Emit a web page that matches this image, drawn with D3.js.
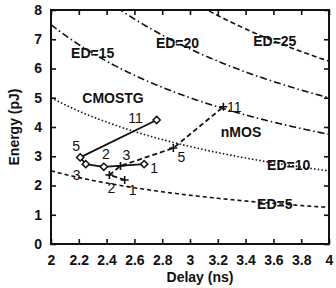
<!DOCTYPE html>
<meta charset="utf-8">
<style>
body { margin: 0; background: #fff; }
svg { font-family: "Liberation Sans", Arial, sans-serif; }
.tick-label { font-size: 14px; font-weight: bold; fill: #111; }
.axis-title { font-size: 14px; font-weight: bold; fill: #111; }
.curve { fill: none; stroke: #111; stroke-width: 1.6px; }
.curve-label { font-size: 14px; font-weight: bold; fill: #111; }
.series-line { fill: none; stroke: #111; stroke-width: 1.8px; }
.pt-label { font-size: 14px; fill: #111; }
</style>
<svg width="336" height="288"></svg>
<script src="https://cdn.jsdelivr.net/npm/d3@7"></script>
<script>

// iso energy-delay curves (E * D = ED)
var edValues = [5, 10, 15, 20, 25];
var edLabelDelay = [3.61, 3.71, 2.30, 2.91, 3.61];

// CMOSTG series (solid, diamonds)
var cmosLabels = ["1", "2", "3", "5", "11"];
var cmosDelay = [2.67, 2.38, 2.25, 2.21, 2.76];
var cmosEnergy = [2.73, 2.64, 2.73, 2.96, 4.24];

// nMOS series (dashed, plus marks)
var nmosLabels = ["1", "2", "3", "5", "11"];
var nmosDelay = [2.53, 2.42, 2.50, 2.88, 3.24];
var nmosEnergy = [2.19, 2.36, 2.67, 3.28, 4.69];

var xTicks = [2, 2.2, 2.4, 2.6, 2.8, 3, 3.2, 3.4, 3.6, 3.8, 4];
var yTicks = [0, 1, 2, 3, 4, 5, 6, 7, 8];

// layout-only bits
var edDash = ["4,3", "1.5,2.2", "7,3,1.5,3", "7,3,1.5,3", "5,3"];
var cmosOffsets = [[10, 4], [2, -13], [-9, 11], [-4, -11], [-21, -2]];
var nmosOffsets = [[8, 10], [2, 13], [6, -11], [8, 9], [11, 0]];

var svg = d3.select("svg"),
    margin = {top: 10, right: 7, bottom: 44, left: 51},
    w = svg.attr("width") - margin.left - margin.right,
    h = svg.attr("height") - margin.top - margin.bottom;

var x = d3.scaleLinear().domain([2, 4]).range([0, w]),
    y = d3.scaleLinear().domain([0, 8]).range([h, 0]);

var g = svg.append("g").attr("transform", "translate(" + margin.left + "," + margin.top + ")");

g.append("clipPath").attr("id", "plot")
  .append("rect").attr("width", w).attr("height", h);

// ticks, pointing inward on all four sides
var fmt = function(d) { return d3.format("")(+d.toFixed(1)); };
g.append("g").attr("transform", "translate(0," + h + ")")
  .call(d3.axisBottom(x).tickValues(xTicks).tickSizeInner(-5).tickSizeOuter(0).tickPadding(11).tickFormat(fmt));
g.append("g")
  .call(d3.axisTop(x).tickValues(xTicks).tickSizeInner(-5).tickSizeOuter(0).tickFormat(""));
g.append("g")
  .call(d3.axisLeft(y).tickValues(yTicks).tickSizeInner(-5).tickSizeOuter(0).tickPadding(9));
g.append("g").attr("transform", "translate(" + w + ",0)")
  .call(d3.axisRight(y).tickValues(yTicks).tickSizeInner(-5).tickSizeOuter(0).tickFormat(""));

g.selectAll(".domain").remove();
g.selectAll(".tick line").attr("stroke", "#111").attr("stroke-width", 1.6);
g.selectAll(".tick text").attr("class", "tick-label").attr("font-size", null).attr("font-family", null);

g.append("rect")
  .attr("width", w).attr("height", h)
  .attr("fill", "none").attr("stroke", "#111").attr("stroke-width", 2);

// axis titles
g.append("text").attr("class", "axis-title")
  .attr("x", w / 2 + 10).attr("y", h + 38)
  .attr("text-anchor", "middle")
  .text("Delay (ns)");
g.append("text").attr("class", "axis-title")
  .attr("transform", "translate(" + (-32) + "," + (h / 2) + ") rotate(-90)")
  .attr("text-anchor", "middle")
  .text("Energy (pJ)");

// ED curves
var line = d3.line()
    .x(function(d) { return x(d[0]); })
    .y(function(d) { return y(d[1]); });

var delays = d3.range(2, 4.0001, 0.01);
var curves = g.append("g").attr("clip-path", "url(#plot)");
edValues.forEach(function(ed, i) {
  curves.append("path")
      .attr("class", "curve")
      .attr("stroke-dasharray", edDash[i])
      .attr("d", line(delays.map(function(d) { return [d, ed / d]; })));
});

edValues.forEach(function(ed, i) {
  var d = edLabelDelay[i];
  g.append("text").attr("class", "curve-label")
      .attr("x", x(d)).attr("y", y(ed / d))
      .attr("text-anchor", "middle")
      .attr("dy", "0.36em")
      .text("ED=" + ed);
});

// series names
g.append("text").attr("class", "curve-label")
    .attr("x", x(2.446)).attr("y", y(4.99)).attr("dy", "0.36em")
    .attr("text-anchor", "middle").text("CMOSTG");
g.append("text").attr("class", "curve-label")
    .attr("x", x(3.367)).attr("y", y(3.83)).attr("dy", "0.36em")
    .attr("text-anchor", "middle").text("nMOS");

// nMOS series
var nmos = nmosDelay.map(function(d, i) { return [d, nmosEnergy[i]]; });
g.append("path").attr("class", "series-line")
    .attr("stroke-dasharray", "5,3")
    .attr("d", line(nmos));
g.selectAll(".plus").data(nmos).enter().append("path")
    .attr("class", "plus")
    .attr("transform", function(d) { return "translate(" + x(d[0]) + "," + y(d[1]) + ")"; })
    .attr("d", "M-4,0H4M0,-4V4")
    .attr("stroke", "#111").attr("stroke-width", 1.6);
g.selectAll(".nlab").data(nmos).enter().append("text")
    .attr("class", "pt-label")
    .attr("x", function(d, i) { return x(d[0]) + nmosOffsets[i][0]; })
    .attr("y", function(d, i) { return y(d[1]) + nmosOffsets[i][1]; })
    .attr("dy", "0.36em").attr("text-anchor", "middle")
    .text(function(d, i) { return nmosLabels[i]; });

// CMOSTG series
var cmos = cmosDelay.map(function(d, i) { return [d, cmosEnergy[i]]; });
g.append("path").attr("class", "series-line")
    .attr("d", line(cmos));
g.selectAll(".diamond").data(cmos).enter().append("path")
    .attr("class", "diamond")
    .attr("transform", function(d) { return "translate(" + x(d[0]) + "," + y(d[1]) + ")"; })
    .attr("d", "M0,-3.6L3.6,0L0,3.6L-3.6,0Z")
    .attr("fill", "#fff").attr("stroke", "#111").attr("stroke-width", 1.5);
g.selectAll(".clab").data(cmos).enter().append("text")
    .attr("class", "pt-label")
    .attr("x", function(d, i) { return x(d[0]) + cmosOffsets[i][0]; })
    .attr("y", function(d, i) { return y(d[1]) + cmosOffsets[i][1]; })
    .attr("dy", "0.36em").attr("text-anchor", "middle")
    .text(function(d, i) { return cmosLabels[i]; });

</script>
